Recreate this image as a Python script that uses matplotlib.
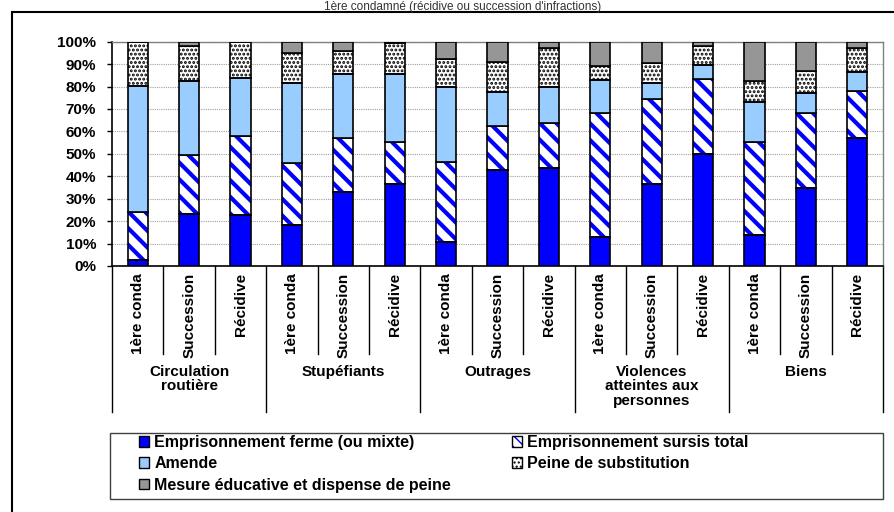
#!/usr/bin/env python3
import matplotlib
matplotlib.use("Agg")
import matplotlib.pyplot as plt
from matplotlib.patches import Patch, Rectangle
from matplotlib.transforms import blended_transform_factory

plt.rcParams["font.family"] = ["Liberation Sans", "DejaVu Sans"]

groups = ["Circulation\nroutière", "Stupéfiants", "Outrages",
          "Violences\natteintes aux\npersonnes", "Biens"]
subcats = ["1ère conda", "Succession", "Récidive"]

series_names = [
    "Emprisonnement ferme (ou mixte)",
    "Emprisonnement sursis total",
    "Amende",
    "Peine de substitution",
    "Mesure éducative et dispense de peine",
]

# shares in %, one value per bar (group x subcat order)
ferme = [2.7, 23.0, 22.7, 18.3, 32.8, 36.5, 10.5, 42.8, 43.8, 13.1, 36.4, 49.9, 13.8, 34.6, 56.9]
sursis = [21.5, 26.5, 35.2, 27.7, 24.1, 18.6, 35.7, 19.7, 20.1, 54.9, 37.9, 33.3, 41.3, 33.4, 21.1]
amende = [56.2, 33.1, 25.7, 35.7, 28.5, 30.3, 33.4, 14.9, 16.0, 14.9, 7.1, 6.4, 18.1, 9.2, 8.3]
substitution = [19.6, 15.6, 16.4, 13.4, 10.6, 13.8, 12.5, 13.6, 17.1, 6.2, 8.9, 8.6, 9.4, 9.7, 10.7]
mesure = [0.0, 1.8, 0.0, 4.9, 4.0, 0.8, 7.9, 9.0, 3.0, 10.9, 9.7, 1.8, 17.4, 13.1, 3.0]

series = [ferme, sursis, amende, substitution, mesure]
faces = ["#0000FF", "white", "#99CCFF", "white", "#969696"]
hatches = [None, "\\\\", None, "....", None]
legend_hatches = [None, "\\\\\\", None, "....", None]
hatch_cols = [None, "#0000FF", None, "black", None]
hatch_lw = [1.0, 3.0, 1.0, 1.4, 1.0]


def hatched_patch(fc, h, hc, lw):
    with plt.rc_context({"hatch.linewidth": lw}):
        p = Patch(facecolor=fc, edgecolor=hc, hatch=h, linewidth=0)
    if hasattr(p, "set_hatch_linewidth"):
        p.set_hatch_linewidth(lw)
    return p


fig = plt.figure(figsize=(8.94, 5.12), dpi=100)
ax = fig.add_axes([0.1253, 0.4805, 0.8624, 0.4381])

x = list(range(len(ferme)))
width = 0.39
bottom = [0.0] * len(x)
for vals, fc, h, hc, hl in zip(series, faces, hatches, hatch_cols, hatch_lw):
    if h:
        with plt.rc_context({"hatch.linewidth": hl}):
            bars = ax.bar(x, vals, width, bottom=bottom, color=fc, edgecolor=hc,
                          hatch=h, linewidth=0, zorder=3)
        for b in bars:
            if hasattr(b, "set_hatch_linewidth"):
                b.set_hatch_linewidth(hl)
    ax.bar(x, vals, width, bottom=bottom, facecolor=fc if not h else "none",
           edgecolor="black", linewidth=1.2, zorder=4)
    bottom = [b + v for b, v in zip(bottom, vals)]

ax.set_xlim(-0.5, len(x) - 0.5)
ax.set_ylim(0, 100)
ax.set_yticks(range(0, 101, 10))
ax.set_yticklabels([f"{v}%" for v in range(0, 101, 10)], fontweight="bold", fontsize=11)
ax.tick_params(axis="y", length=3.5, width=1, pad=8)
ax.set_xticks([])
ax.yaxis.grid(True, linestyle=(0, (1, 1)), color="#a0a0a0", linewidth=0.8, zorder=0)
ax.set_axisbelow(True)
ax.spines["left"].set_linewidth(1.2)
ax.spines["bottom"].set_linewidth(1.2)
for s in ("top", "right"):
    ax.spines[s].set_color("#808080")
    ax.spines[s].set_linewidth(1.0)

# multi-level category axis
trans = blended_transform_factory(ax.transData, ax.transAxes)
n_sub = len(subcats)
for i in range(len(x) + 1):
    xb = i - 0.5
    y_end = -0.651 if i % n_sub == 0 else -0.392
    ax.plot([xb, xb], [0, y_end], color="black", linewidth=1, transform=trans, clip_on=False)
for i in x:
    ax.text(i, -0.031, subcats[i % n_sub], rotation=90, ha="center", va="top",
            fontsize=11, fontweight="bold", transform=trans)
for g, name in enumerate(groups):
    ax.text(g * n_sub + 1, -0.44, name, ha="center", va="top", fontsize=11,
            fontweight="bold", linespacing=1.05, transform=trans)

# legend (two columns placed separately)
handles = []
for fc, h, hc, hl in zip(faces, legend_hatches, hatch_cols, hatch_lw):
    if h:
        handles.append((hatched_patch(fc, h, hc, min(hl, 2.0)),
                        Patch(facecolor="none", edgecolor="black", linewidth=1)))
    else:
        handles.append(Patch(facecolor=fc, edgecolor="black", linewidth=1))

leg_kw = dict(frameon=False, prop={"weight": "bold", "size": 11.5},
              handlelength=0.65, handleheight=0.65, handletextpad=0.3,
              labelspacing=0.4, borderaxespad=0, borderpad=0)
leg1 = fig.legend([handles[0], handles[2], handles[4]],
                  [series_names[0], series_names[2], series_names[4]],
                  loc="upper left", bbox_to_anchor=(139 / 894, 1 - 435 / 512), **leg_kw)
leg2 = fig.legend([handles[1], handles[3]], [series_names[1], series_names[3]],
                  loc="upper left", bbox_to_anchor=(512 / 894, 1 - 435 / 512), **leg_kw)

fig.add_artist(Rectangle((110 / 894, 1 - 499 / 512), 773 / 894, 66 / 512,
                         transform=fig.transFigure, facecolor="none",
                         edgecolor="#404040", linewidth=1))

# outer chart frame
fig.add_artist(Rectangle((12 / 894, -0.05), 1.0, 1.05 - 12 / 512,
                         transform=fig.transFigure, facecolor="none",
                         edgecolor="black", linewidth=1.5, clip_on=False))

# title sits in the thin strip above the frame
fig.text(0.517, 1 - 1 / 512, "1ère condamné (récidive ou succession d'infractions)",
         ha="center", va="top", fontsize=8.5, color="#333333")

fig.savefig("out.png", dpi=100)
